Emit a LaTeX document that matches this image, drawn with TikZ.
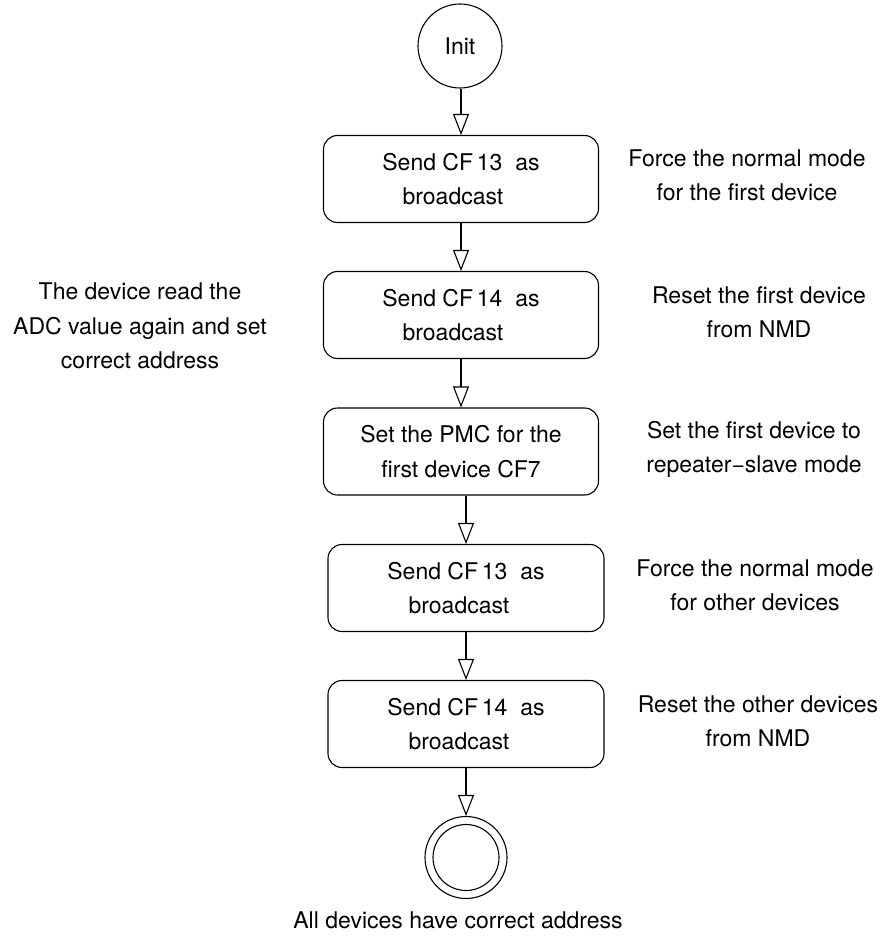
\documentclass[tikz,border=0pt]{standalone}
\usepackage{fontspec}
\setmainfont{TeX Gyre Heros}
\usetikzlibrary{arrows.meta,calc}
\begin{document}
\begin{tikzpicture}[x=1pt,y=-1pt,
  every node/.style={font=\fontsize{23}{34.5}\selectfont, align=center, inner sep=0pt},
  stepbox/.style={draw, line width=1.1pt, rounded corners=14pt, minimum width=275pt, minimum height=87pt},
  flow/.style={line width=1.1pt, -{Triangle[length=21pt,width=16pt,fill=white,line width=1.1pt]}},
  note/.style={}
]
\useasboundingbox (0,0) rectangle (883,936);
\node[draw, circle, line width=1.1pt, minimum size=84pt] (init) at (460,46) {Init};
\node[stepbox] (b1) at (461,179) {Send CF\,13\ \ as\\broadcast\hspace*{16pt}};
\node[stepbox] (b2) at (461,315) {Send CF\,14\ \ as\\broadcast\hspace*{16pt}};
\node[stepbox] (b3) at (461,451.5) {Set the PMC for the\\first device CF7};
\node[stepbox, minimum width=276pt] (b4) at (466,588) {Send CF\,13\ \ as\\broadcast\hspace*{14pt}};
\node[stepbox, minimum width=276pt] (b5) at (466,724) {Send CF\,14\ \ as\\broadcast\hspace*{14pt}};
\node[draw, circle, line width=1.1pt, minimum size=82pt] (fin) at (466,857.5) {};
\node[draw, circle, line width=1.1pt, minimum size=66pt] (finin) at (466,857.5) {};
\node (finlab) at (458,920) {All devices have correct address};

\node[note] (r1) at (747,175.5) {Force the normal mode\\for the first device};
\node[note] (r2) at (759,312.5) {Reset the first device\\from NMD};
\node[note] (r3) at (754,449.5) {Set the first device to\\repeater−slave mode};
\node[note] (r4) at (755,585.5) {Force the normal mode\\for other devices};
\node[note] (r5) at (758,721.5) {Reset the other devices\\from NMD};
\node[note] (l1) at (140,326) {The device read the\\ADC value again and set\\correct address};

\draw[flow] (init.south -| b1.north) -- (b1.north);
\draw[flow] (b1.south) -- (b2.north);
\draw[flow] (b2.south) -- (b3.north);
\draw[flow] (b4.north |- b3.south) -- (b4.north);
\draw[flow] (b4.south) -- (b5.north);
\draw[flow] (b5.south) -- (fin.north);
\end{tikzpicture}
\end{document}
